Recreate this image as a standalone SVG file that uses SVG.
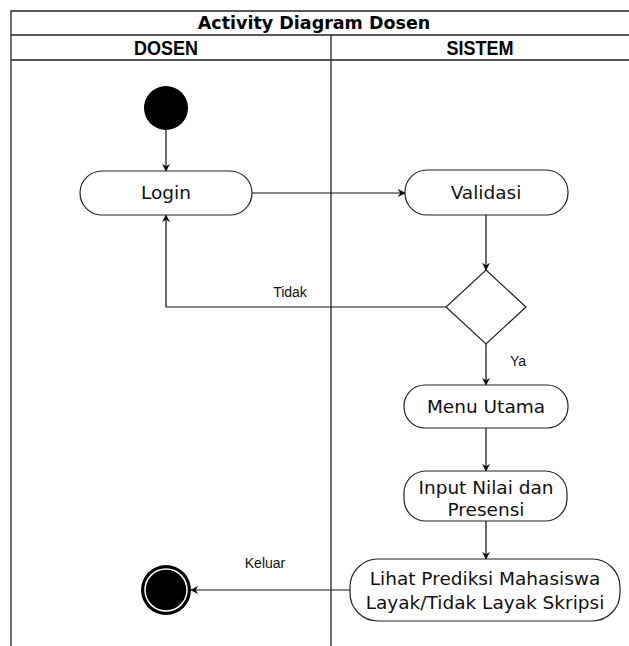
<svg xmlns="http://www.w3.org/2000/svg" width="629" height="646" viewBox="0 0 629 646">
  <style>
    .frame { fill: none; stroke: #222; stroke-width: 1.3; }
    .act { fill: #fff; stroke: #222; stroke-width: 1.2; }
    .edge { fill: none; stroke: #111; stroke-width: 1.2; }
    .title { font-family: "DejaVu Sans", sans-serif; font-weight: bold; font-size: 17.5px; fill: #000; }
    .lane { font-family: "Liberation Sans", Arial, sans-serif; font-weight: bold; font-size: 20px; fill: #000; }
    .label { font-family: "DejaVu Sans", sans-serif; font-size: 18.5px; fill: #111; }
    .small { font-family: "Liberation Sans", Arial, sans-serif; font-size: 14px; fill: #111; }
  </style>
  <defs>
    <marker id="arrow" viewBox="0 0 10 10" refX="9" refY="5" markerWidth="8" markerHeight="8" orient="auto" markerUnits="userSpaceOnUse">
      <path d="M0,0 L10,5 L0,10 L3,5 Z" fill="#111"/>
    </marker>
  </defs>
  <rect width="629" height="646" fill="#fff"/>

  <!-- swimlane frame -->
  <g id="pool">
    <path class="frame" d="M11,646 V11 H629 M11,35 H629 M11,60 H629 M331,35 V646"/>
    <text class="title" x="314" y="29" text-anchor="middle">Activity Diagram Dosen</text>
    <text class="lane" transform="translate(166,55) scale(0.9,1)" text-anchor="middle">DOSEN</text>
    <text class="lane" transform="translate(480,55) scale(0.9,1)" text-anchor="middle">SISTEM</text>
  </g>

  <!-- connectors -->
  <g id="edges">
    <path class="edge" d="M166,130 V171" marker-end="url(#arrow)"/>
    <path class="edge" d="M252,193 H405" marker-end="url(#arrow)"/>
    <path class="edge" d="M486,215 V270" marker-end="url(#arrow)"/>
    <path class="edge" d="M446,307 H166 V215" marker-end="url(#arrow)"/>
    <path class="edge" d="M486,344 V385" marker-end="url(#arrow)"/>
    <path class="edge" d="M486,428 V471" marker-end="url(#arrow)"/>
    <path class="edge" d="M486,521 V559" marker-end="url(#arrow)"/>
    <path class="edge" d="M350,590 H191" marker-end="url(#arrow)"/>
    <text class="small" x="290" y="297" text-anchor="middle">Tidak</text>
    <text class="small" x="518" y="366" text-anchor="middle">Ya</text>
    <text class="small" x="265" y="568" text-anchor="middle">Keluar</text>
  </g>

  <!-- nodes -->
  <g id="start">
    <circle cx="166" cy="108" r="22" fill="#000"/>
  </g>
  <g id="login">
    <rect class="act" x="80" y="171" width="172" height="44" rx="22"/>
    <text class="label" x="166" y="199" text-anchor="middle">Login</text>
  </g>
  <g id="validasi">
    <rect class="act" x="405" y="170" width="163" height="45" rx="22"/>
    <text class="label" x="486" y="199" text-anchor="middle">Validasi</text>
  </g>
  <g id="decision">
    <polygon class="act" points="486,270 526,307 486,344 446,307"/>
  </g>
  <g id="menu">
    <rect class="act" x="404" y="385" width="164" height="43" rx="21"/>
    <text class="label" x="486" y="413" text-anchor="middle">Menu Utama</text>
  </g>
  <g id="input">
    <rect class="act" x="404" y="471" width="163" height="50" rx="22"/>
    <text class="label" x="486" y="494" text-anchor="middle">Input Nilai dan</text>
    <text class="label" x="486" y="516" text-anchor="middle">Presensi</text>
  </g>
  <g id="lihat">
    <rect class="act" x="350" y="559" width="270" height="62" rx="28"/>
    <text class="label" x="485" y="585" text-anchor="middle">Lihat Prediksi Mahasiswa</text>
    <text class="label" x="485" y="609" text-anchor="middle">Layak/Tidak Layak Skripsi</text>
  </g>
  <g id="end">
    <circle cx="166" cy="590" r="25" fill="#000"/>
    <circle cx="166" cy="590" r="21" fill="none" stroke="#fff" stroke-width="1.5"/>
  </g>
</svg>
